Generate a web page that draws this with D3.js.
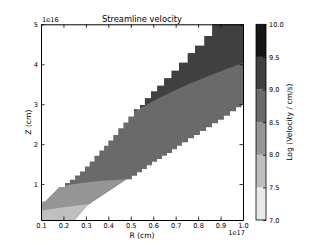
<!DOCTYPE html>
<html><head><meta charset="utf-8">
<script src="https://cdn.jsdelivr.net/npm/d3@7"></script>
<style>body{margin:0;background:#fff}svg{display:block}text{font-family:"DejaVu Sans",sans-serif;fill:#000}</style>
</head><body>
<svg id="c" width="327" height="245"></svg>
<script>
// ---- data (R in 1e17 cm, Z in 1e16 cm) ----
const xTicks = [0.1,0.2,0.3,0.4,0.5,0.6,0.7,0.8,0.9,1.0];
const yTicks = [1,2,3,4,5];
const levels = [7.0,7.5,8.0,8.5,9.0,9.5,10.0];
const levelColors = ["#eaeaea","#bfbfbf","#959595","#6a6a6a","#404040","#151515"];
const cbTicks = [7.0,7.5,8.0,8.5,9.0,9.5,10.0];
// outer boundary of the unmasked region
const lowerSmooth = [[0.1,0.0],[0.235,0.0],[0.305,0.46],[0.481,1.12]];
const lowerSteps = [[0.481,1.12],[0.505,1.21],[0.528,1.295],[0.55,1.38],[0.572,1.47],[0.595,1.56],[0.617,1.63],[0.639,1.71],[0.661,1.78],[0.684,1.87],[0.706,1.96],[0.728,2.045],[0.755,2.145],[0.782,2.23],[0.808,2.33],[0.835,2.42],[0.862,2.52],[0.889,2.61],[0.915,2.71],[0.942,2.82],[0.969,2.92],[0.993,3.0]];
const upperSmooth = [[0.1,0.558],[0.118,0.558],[0.183,0.925]];
const upperSteps = [[0.183,0.925],[0.207,1.025],[0.229,1.11],[0.252,1.215],[0.274,1.315],[0.296,1.44],[0.317,1.565],[0.338,1.71],[0.36,1.84],[0.381,1.96],[0.4,2.09],[0.422,2.23],[0.444,2.4],[0.467,2.54],[0.489,2.69],[0.514,2.875],[0.541,2.98],[0.563,3.15],[0.59,3.315],[0.618,3.46],[0.649,3.65],[0.682,3.84],[0.715,4.04],[0.754,4.275],[0.786,4.46],[0.828,4.71],[0.863,5.0]];
// contour between 9.0-9.5 and 8.5-9.0
const contour90 = [[0.45,2.68],[0.5,2.8],[0.541,2.9],[0.63,3.17],[0.755,3.5],[0.875,3.77],[1.0,4.04],[1.05,4.14]];
// contour between 8.5-9.0 and 8.0-8.5
const contour85 = [[0.05,0.95],[0.183,0.92],[0.229,0.983],[0.296,1.038],[0.363,1.075],[0.43,1.1],[0.483,1.12]];
// contour between 8.0-8.5 and 7.5-8.0
const contour80 = [[0.05,0.32],[0.1,0.33],[0.2,0.42],[0.3,0.49],[0.34,0.515]];

// ---- layout ----
const svg = d3.select("#c");
const L=41, R=243, T=24.3, B=220;
const x = d3.scaleLinear().domain([0.1,1.0]).range([L,R]);
const y = d3.scaleLinear().domain([0.1,5.0]).range([B,T]);
const line = d3.line().x(d=>x(d[0])).y(d=>y(d[1]));

function stepExpand(pts){const o=[];pts.forEach((p,i)=>{o.push(p);if(i<pts.length-1)o.push([pts[i+1][0],p[1]]);});return o;}
const lastLow = lowerSteps[lowerSteps.length-1];
const lastUp = upperSteps[upperSteps.length-1];
const outline = [].concat(
  lowerSmooth, stepExpand(lowerSteps), [[1.05,lastLow[1]],[1.05,5.5],[lastUp[0],5.5]],
  stepExpand(upperSteps).reverse(), upperSmooth.slice().reverse(), [[0.05,0.558],[0.05,0.0]]);

const defs = svg.append("defs");
defs.append("clipPath").attr("id","plotclip").append("rect")
  .attr("x",L).attr("y",T).attr("width",R-L).attr("height",B-T);
defs.append("clipPath").attr("id","maskclip").append("path").attr("d",line(outline)+"Z");

const g = svg.append("g").attr("clip-path","url(#plotclip)")
  .append("g").attr("clip-path","url(#maskclip)");
g.append("rect").attr("x",L).attr("y",T).attr("width",R-L).attr("height",B-T).attr("fill",levelColors[3]);
g.append("path").attr("d",line(contour85.concat([[contour85[contour85.length-1][0],-1],[0.05,-1]]))+"Z").attr("fill",levelColors[2]);
g.append("path").attr("d",line(contour80.concat([[contour80[contour80.length-1][0],-1],[0.05,-1]]))+"Z").attr("fill",levelColors[1]);
g.append("path").attr("d",line(contour90.concat([[1.05,5.5],[0.45,5.5]]))+"Z").attr("fill",levelColors[4]);

// ---- axes ----
const fs = 6.6;
function styleAx(sel){sel.selectAll("path.domain").attr("stroke","#000").attr("stroke-width",1);
  sel.selectAll(".tick line").attr("stroke","#000").attr("stroke-width",0.8);
  sel.selectAll("text").attr("font-size",fs).attr("font-family","DejaVu Sans").attr("fill","#000");}
styleAx(svg.append("g").attr("transform",`translate(0,${B})`)
  .call(d3.axisBottom(x).tickValues(xTicks).tickFormat(d3.format(".1f")).tickSize(-3.5).tickSizeOuter(0).tickPadding(3)));
styleAx(svg.append("g").attr("transform",`translate(0,${T})`)
  .call(d3.axisTop(x).tickValues(xTicks).tickFormat("").tickSize(-3.5).tickSizeOuter(0)));
styleAx(svg.append("g").attr("transform",`translate(${L},0)`)
  .call(d3.axisLeft(y).tickValues(yTicks).tickFormat(d3.format("d")).tickSize(-3.5).tickSizeOuter(0).tickPadding(3)));
styleAx(svg.append("g").attr("transform",`translate(${R},0)`)
  .call(d3.axisRight(y).tickValues(yTicks).tickFormat("").tickSize(-3.5).tickSizeOuter(0)));

svg.append("text").attr("x",L+1).attr("y",T-2).attr("font-size",fs).text("1e16");
svg.append("text").attr("x",R+2).attr("y",235).attr("font-size",fs).attr("text-anchor","end").text("1e17");
svg.append("text").attr("x",(L+R)/2).attr("y",238).attr("font-size",7.6).attr("text-anchor","middle").text("R (cm)");
svg.append("text").attr("transform",`translate(31,${(T+B)/2}) rotate(-90)`).attr("font-size",7.6).attr("text-anchor","middle").text("Z (cm)");
svg.append("text").attr("x",(L+R)/2).attr("y",21.5).attr("font-size",8.3).attr("text-anchor","middle").text("Streamline velocity");

// ---- colorbar ----
const cbL=256, cbW=10;
const cb = d3.scaleLinear().domain([7,10]).range([B,T]);
const cbg = svg.append("g");
cbg.selectAll("rect.band").data(levelColors).join("rect").attr("class","band")
  .attr("x",cbL).attr("width",cbW)
  .attr("y",(c,i)=>cb(levels[i+1])).attr("height",(c,i)=>cb(levels[i])-cb(levels[i+1])).attr("fill",c=>c);
cbg.append("rect").attr("x",cbL).attr("y",T).attr("width",cbW).attr("height",B-T).attr("fill","none").attr("stroke","#000").attr("stroke-width",0.8);
const cax = svg.append("g").attr("transform",`translate(${cbL+cbW},0)`)
  .call(d3.axisRight(cb).tickValues(cbTicks).tickFormat(d3.format(".1f")).tickSize(-3).tickSizeOuter(0).tickPadding(3));
styleAx(cax); cax.select(".domain").remove();
svg.append("text").attr("transform",`translate(292,${(T+B)/2}) rotate(-90)`).attr("font-size",7.6).attr("text-anchor","middle").text("Log (Velocity / cm/s)");
</script>
</body></html>
